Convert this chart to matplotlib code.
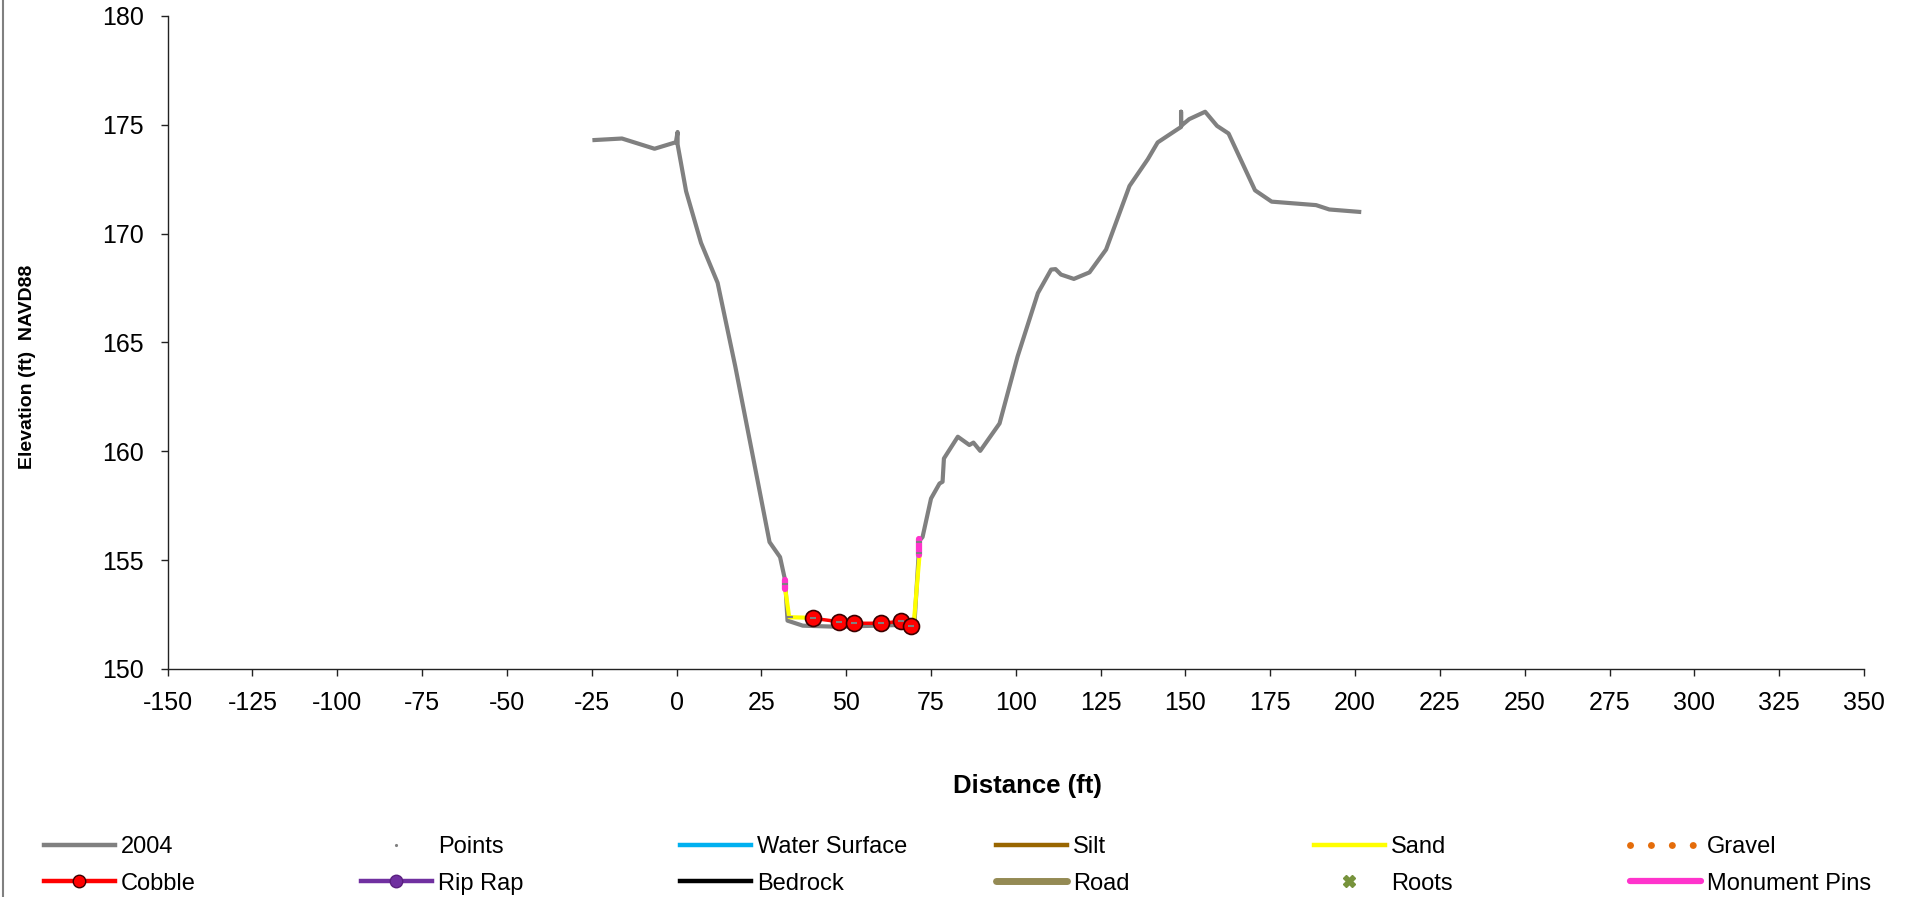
import matplotlib
matplotlib.use('Agg')
import matplotlib.pyplot as plt
from matplotlib.lines import Line2D

plt.rcParams['font.family'] = ['Liberation Sans', 'DejaVu Sans']
plt.rcParams['axes.unicode_minus'] = False

# 2004 cross section survey
dist_2004 = [-24.2, -16.1, -6.5, -0.2, 0.3, 0.3, 2.8, 7.2, 12.1, 17.3, 22.2,
             27.4, 30.5, 32.0, 32.7, 37.2, 47.5, 70.1, 71.6, 72.5, 75.0, 77.5,
             78.4, 78.8, 82.9, 86.3, 87.5, 89.5, 95.2, 100.5, 106.5, 110.4,
             111.7, 113.3, 117.1, 121.7, 126.6, 133.5, 138.9, 141.8, 147.7,
             148.7, 148.7, 148.7, 151.1, 155.8, 159.3, 162.7, 170.5, 175.4,
             188.5, 192.4, 201.2]
elev_2004 = [174.3, 174.37, 173.9, 174.2, 174.67, 174.1, 171.95, 169.58, 167.74,
             163.9, 160.0, 155.83, 155.14, 154.07, 152.22, 151.99, 151.94,
             152.04, 155.9, 156.06, 157.83, 158.52, 158.6, 159.67, 160.67,
             160.29, 160.4, 160.02, 161.28, 164.35, 167.27, 168.35, 168.37,
             168.12, 167.92, 168.22, 169.27, 172.19, 173.42, 174.19, 174.8,
             174.9, 175.6, 174.95, 175.26, 175.6, 174.95, 174.6, 171.99,
             171.47, 171.31, 171.11, 171.0]

# substrate
sand_left_d = [32.0, 33.2, 39.6]
sand_left_e = [153.7, 152.38, 152.35]
sand_right_d = [69.9, 71.6]
sand_right_e = [152.07, 155.22]

cobble_d = [40.1, 48.0, 52.2, 60.3, 66.2, 69.1]
cobble_e = [152.33, 152.17, 152.1, 152.1, 152.19, 151.99]

pin_left_d = [32.0, 32.0]
pin_left_e = [154.07, 153.69]
pin_right_d = [71.6, 71.6]
pin_right_e = [155.98, 155.22]

points_d = [32.0, 33.4] + cobble_d + [71.6, 71.6]
points_e = [153.9, 152.38] + cobble_e + [155.35, 155.85]

xticks = list(range(-150, 351, 25))
yticks = list(range(150, 181, 5))

fig = plt.figure(figsize=(19.12, 8.97), dpi=100)
ax = fig.add_axes([0.0877, 0.2542, 0.8872, 0.7280])

gray = '#808080'
ax.plot(dist_2004, elev_2004, color=gray, lw=3, solid_joinstyle='round', zorder=2)
ax.plot(sand_left_d, sand_left_e, color='#FFFF00', lw=3, zorder=3)
ax.plot(sand_right_d, sand_right_e, color='#FFFF00', lw=3, zorder=3)
ax.plot(cobble_d, cobble_e, color='#FF0000', lw=2.5, marker='o', ms=11.5,
        mfc='#FF0000', mec='#3a0000', mew=1.2, zorder=4)
ax.plot(pin_left_d, pin_left_e, color='#FF33CC', lw=4.5, solid_capstyle='round', zorder=5)
ax.plot(pin_right_d, pin_right_e, color='#FF33CC', lw=4.5, solid_capstyle='round', zorder=5)
ax.plot(points_d, points_e, ls='none', marker='_', ms=4, mew=1.5, color=gray, zorder=6)

ax.set_xlim(-150, 350)
ax.set_ylim(150, 180)
ax.set_xticks(xticks)
ax.set_yticks(yticks)
for s in ['top', 'right']:
    ax.spines[s].set_visible(False)
for s in ['left', 'bottom']:
    ax.spines[s].set_color('#222222')
    ax.spines[s].set_linewidth(1)
ax.tick_params(axis='both', direction='out', length=5, width=1, color='#222222',
               labelsize=18)
ax.tick_params(axis='x', pad=11)
ax.tick_params(axis='y', pad=12)

ax.set_xlabel('Distance (ft)', fontsize=18.5, fontweight='bold')
ax.xaxis.set_label_coords(0.507, -0.161)
ax.set_ylabel('Elevation (ft)  NAVD88', fontsize=14, fontweight='bold')
ax.yaxis.set_label_coords(-0.0775, 0.462)

# legend, six columns of two entries
h = {
    '2004': Line2D([], [], color=gray, lw=3.2),
    'Points': Line2D([], [], ls='none', marker='.', ms=2.5, color=gray),
    'Water Surface': Line2D([], [], color='#00B0F0', lw=3.2),
    'Silt': Line2D([], [], color='#996600', lw=3.2),
    'Sand': Line2D([], [], color='#FFFF00', lw=3.2),
    'Gravel': Line2D([], [], color='#E46C0A', lw=5, ls=(0, (0.01, 3.0)),
                     dash_capstyle='round'),
    'Cobble': Line2D([], [], color='#FF0000', lw=3.2, marker='o', ms=9,
                     mfc='#FF0000', mec='#3a0000', mew=1),
    'Rip Rap': Line2D([], [], color='#7030A0', lw=3.2, marker='o', ms=9,
                      mfc='#7030A0', mec='#5a2080', mew=1),
    'Bedrock': Line2D([], [], color='#000000', lw=3.2),
    'Road': Line2D([], [], color='#948A54', lw=5, solid_capstyle='round'),
    'Roots': Line2D([], [], ls='none', marker='X', ms=9, color='#77933C'),
    'Monument Pins': Line2D([], [], color='#FF33CC', lw=4.5, solid_capstyle='round'),
}
columns = [('2004', 'Cobble'), ('Points', 'Rip Rap'), ('Water Surface', 'Bedrock'),
           ('Silt', 'Road'), ('Sand', 'Roots'), ('Gravel', 'Monument Pins')]
col_x = [44, 361, 680, 996, 1314, 1630]
for (a, b), x in zip(columns, col_x):
    leg = fig.legend([h[a], h[b]], [a, b], loc='upper left',
                     bbox_to_anchor=(x / 1912, 1 - 836 / 897), frameon=False,
                     fontsize=17, handlelength=3.0, handletextpad=0.27,
                     labelspacing=0.62, borderpad=0, borderaxespad=0)

fig.add_artist(Line2D([0.0016, 0.0016], [0, 1], color=gray, lw=1.5))

fig.savefig('out.png', dpi=100)
